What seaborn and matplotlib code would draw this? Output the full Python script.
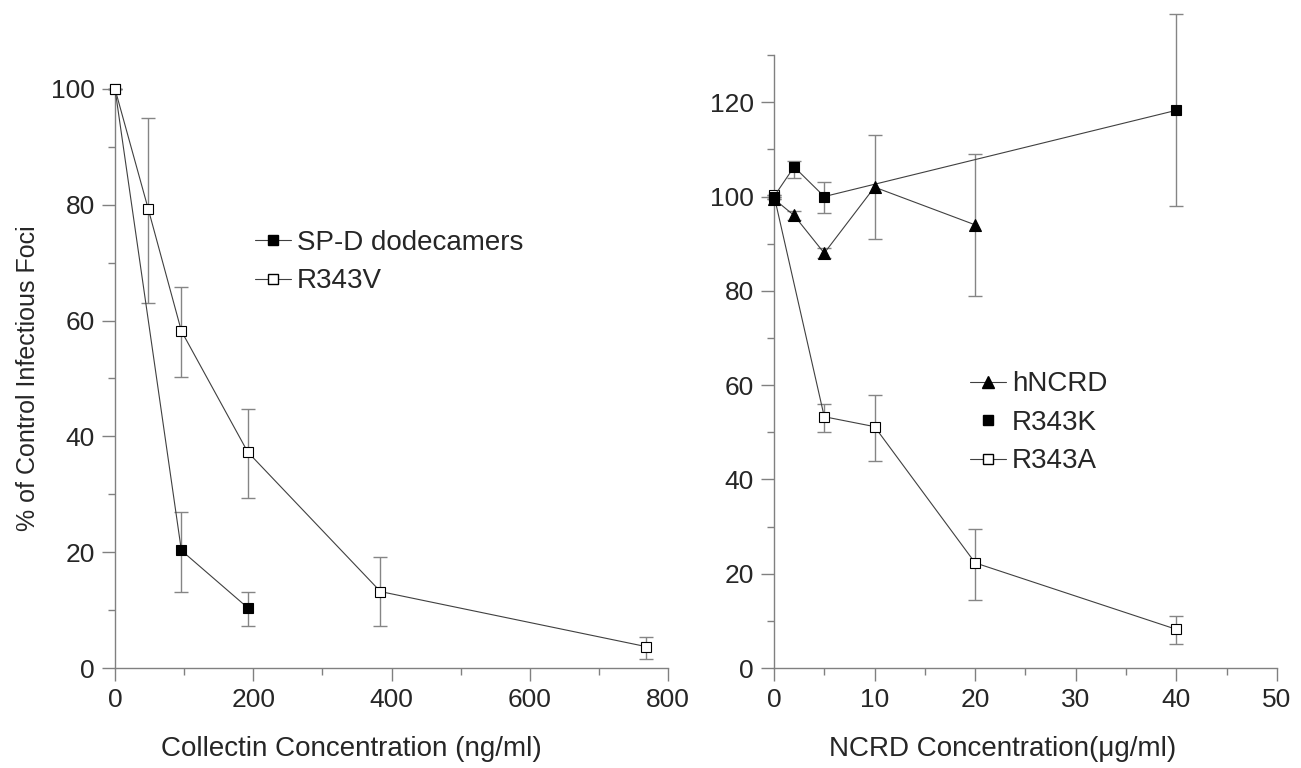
import numpy as np
import pandas as pd
import seaborn as sns
import matplotlib.pyplot as plt
from matplotlib.lines import Line2D
from matplotlib.ticker import MultipleLocator

# left panel: collectin concentration (ng/ml)
spd_x = [0, 96, 192]
spd_y = [100, 20.3, 10.4]
spd_lo = [100, 13.1, 7.2]
spd_hi = [100, 27.0, 13.1]

r343v_x = [0, 48, 96, 192, 384, 768]
r343v_y = [100, 79.3, 58.2, 37.3, 13.2, 3.7]
r343v_lo = [100, 63.0, 50.2, 29.3, 7.2, 1.6]
r343v_hi = [100, 95.0, 65.8, 44.7, 19.1, 5.4]

# right panel: NCRD concentration (ug/ml)
hncrd_x = [0, 2, 5, 10, 20]
hncrd_y = [99.5, 96.0, 88.0, 102.0, 94.0]
hncrd_lo = [99.5, 95.0, 87.0, 91.0, 79.0]
hncrd_hi = [99.5, 97.0, 89.0, 113.0, 109.0]

r343k_x = [0, 2, 5, 40]
r343k_y = [100, 106.3, 100.0, 118.3]
r343k_lo = [100, 104.0, 96.5, 98.0]
r343k_hi = [100, 107.6, 103.0, 138.7]

r343a_x = [0, 5, 10, 20, 40]
r343a_y = [100.3, 53.3, 51.2, 22.3, 8.2]
r343a_lo = [100.3, 50.0, 44.0, 14.5, 5.0]
r343a_hi = [100.3, 56.0, 58.0, 29.5, 11.0]

sns.set_style("ticks")
plt.rcParams['font.family'] = ['Liberation Sans', 'DejaVu Sans']

line_c = '#404040'
err_c = '#858585'
axis_c = '#808080'

fig = plt.figure(figsize=(13.01, 7.68), dpi=100)
ax1 = fig.add_axes([0.0884, 0.1302, 0.4251, 0.754])
ax2 = fig.add_axes([0.5949, 0.1302, 0.3866, 0.798])


def draw(ax, x, y, lo, hi, marker, face, ms):
    y = np.array(y)
    yerr = [y - np.array(lo), np.array(hi) - y]
    ax.errorbar(x, y, yerr=yerr, fmt='none', ecolor=err_c, elinewidth=1,
                capsize=5, capthick=1, zorder=2)
    sns.lineplot(x=x, y=y, ax=ax, color=line_c, linewidth=0.8, marker=marker,
                 markersize=ms, markerfacecolor=face, markeredgecolor='black',
                 markeredgewidth=0.8, zorder=3, sort=False)


draw(ax1, spd_x, spd_y, spd_lo, spd_hi, 's', 'black', 7)
draw(ax1, r343v_x, r343v_y, r343v_lo, r343v_hi, 's', 'white', 7)

draw(ax2, r343a_x, r343a_y, r343a_lo, r343a_hi, 's', 'white', 7)
draw(ax2, r343k_x, r343k_y, r343k_lo, r343k_hi, 's', 'black', 7)
draw(ax2, hncrd_x, hncrd_y, hncrd_lo, hncrd_hi, '^', 'black', 9)

ax1.set_xlim(0, 800)
ax1.set_ylim(0, 100)
ax1.xaxis.set_major_locator(MultipleLocator(200))
ax1.xaxis.set_minor_locator(MultipleLocator(100))
ax1.yaxis.set_major_locator(MultipleLocator(20))
ax1.yaxis.set_minor_locator(MultipleLocator(10))

ax2.set_xlim(0, 50)
ax2.set_ylim(0, 130)
ax2.xaxis.set_major_locator(MultipleLocator(10))
ax2.xaxis.set_minor_locator(MultipleLocator(5))
ax2.yaxis.set_major_locator(MultipleLocator(20))
ax2.yaxis.set_minor_locator(MultipleLocator(10))

for ax in (ax1, ax2):
    sns.despine(ax=ax)
    for s in ('left', 'bottom'):
        ax.spines[s].set_color(axis_c)
        ax.spines[s].set_linewidth(1)
    ax.tick_params(which='major', length=9.5, width=1, color=axis_c,
                   labelsize=19, pad=5)
    ax.tick_params(which='minor', length=5, width=1, color=axis_c)
    for art in ax.lines + ax.collections:
        art.set_clip_on(False)

ax1.set_xlabel('Collectin Concentration (ng/ml)', fontsize=20)
ax1.xaxis.set_label_coords(0.427, -0.117)
ax1.set_ylabel('% of Control Infectious Foci', fontsize=18, labelpad=8)
ax2.set_xlabel('NCRD Concentration(\u03bcg/ml)', fontsize=20)
ax2.xaxis.set_label_coords(0.455, -0.111)

h_spd = Line2D([], [], color=line_c, lw=0.8, marker='s', ms=7,
               mfc='black', mec='black')
h_v = Line2D([], [], color=line_c, lw=0.8, marker='s', ms=7,
             mfc='white', mec='black')
ax1.legend([h_spd, h_v], ['SP-D dodecamers', 'R343V'], loc='upper left',
           bbox_to_anchor=(0.208, 0.80), frameon=False, fontsize=20,
           handlelength=1.3, handletextpad=0.2, labelspacing=0.45)

h_n = Line2D([], [], color=line_c, lw=0.8, marker='^', ms=8,
             mfc='black', mec='black')
h_k = Line2D([], [], color='none', lw=0, marker='s', ms=6.5,
             mfc='black', mec='black')
h_a = Line2D([], [], color=line_c, lw=0.8, marker='s', ms=7,
             mfc='white', mec='black')
ax2.legend([h_n, h_k, h_a], ['hNCRD', 'R343K', 'R343A'], loc='upper left',
           bbox_to_anchor=(0.34, 0.525), frameon=False, fontsize=20,
           handlelength=1.3, handletextpad=0.2, labelspacing=0.45)

fig.savefig('out.png', dpi=100)
